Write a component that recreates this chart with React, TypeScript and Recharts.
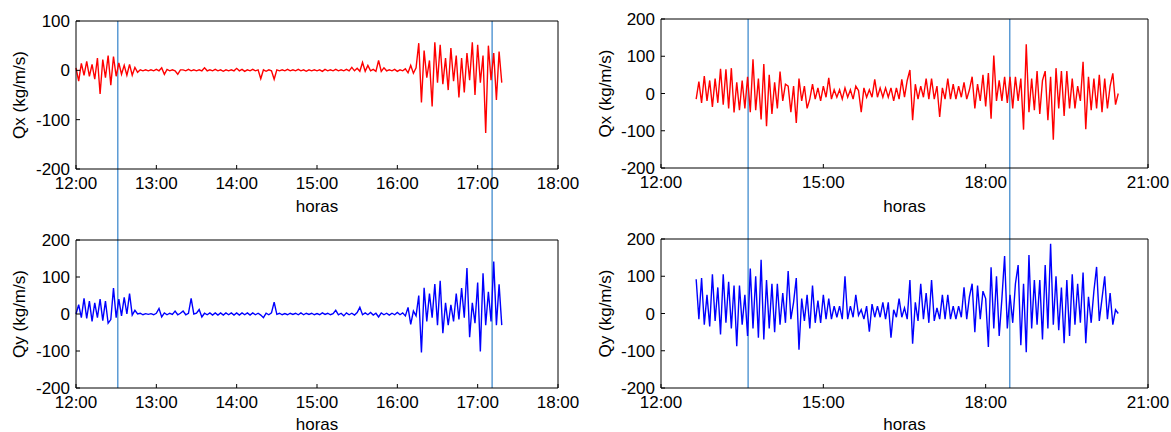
import { LineChart, Line, XAxis, YAxis, ReferenceLine } from "recharts";

// sampling of the records (hours, minutes between samples)
const LEFT_START = 12;
const LEFT_STEP_MIN = 2;
const RIGHT_START = 12 + 39 / 60;
const RIGHT_STEP_MIN = 3;

// left day, 12:00 -> 17:18
const qxLeft = [
  5, -22, 14, -10, 18, -12, 12, -18, 25, -48, 22, -15, 30, -30, 28, -12,
  15, -8, 10, -10, 12, -10, 6, -4, 1, -1, 1, -1, 1, -1,
  2, -1, 5, -8, 2, -1, 1, -1, -8, 1,
  1, -1, 2, -1, 1, -1, 1, -1, 5, -1,
  1, -1, 2, -1, 1, -2, 1, -1, 1, -1,
  4, -1, 2, -2, 1, -1, 2, -1, 1, -17,
  1, -2, 1, -1, -18, 1, -1, 1, -1, 2,
  -1, 1, -1, 2, -1, 1, -2, 1, -1, 1,
  -1, 1, -2, 2, -1, 1, -1, 2, -1, 1,
  -1, 2, -1, 6, -1, 4, -2, 16, -2, 10,
  -1, 2, -2, 20, -2, 5, -1, 1, -1, 2,
  -2, 1, -1, 3, -5, 10, -6, 5,
  55, -65, 40, -15, 20, -73, 57, -25, 52, -28, 25, -40,
  45, -22, 30, -55, 25, -45, 35, -20, 57, -50,
  52, -25, 30, -127, 50, -20, 35, -60, 38, -25,
];

const qyLeft = [
  0, 25, -10, 42, -12, 35, -20, 30, -10, 40, -18, 35, -25, -15, 70, -10,
  40, -5, 45, 0, 55, -3, 10, 0, 2, -2, 1, -1, 1, -2,
  2, 15, -8, 3, -2, 2, -1, 8, -2, 2,
  8, -2, 2, 42, 0, 2, 12, -8, 2, -2,
  3, -3, 3, -3, 3, -3, 3, -2, 3, -3,
  3, -3, 3, -2, 3, -3, 3, -2, 2, -3,
  -10, 2, -2, 3, 32, -1, 2, -2, 1, -2,
  2, -1, 2, -2, 3, -2, 2, -1, 2, -2,
  1, -2, 3, -1, 2, -2, 1, 10, -2, 2,
  -5, 3, -2, 2, -3, 4, 18, -2, 3, -2,
  4, -3, 2, -8, 3, -2, 2, -3, 2, -2,
  4, -2, 3, -5, 18, -28, 8, -5,
  50, -104, 71, -20, 55, -10, 81, -30, 90, -52, 30, -30,
  25, -20, 55, -15, 70, -10, 124, -63, 30, -25,
  85, -101, 110, -30, 60, -20, 142, -30, 80, -30,
];

// right day, 12:39 -> 20:27
const qxRight = [
  -15, 32, -25, 47, -20, 35, -36, 40, -25, 66,
  -30, 65, -40, 68, -51, 30, -45, 35, -40, 45,
  -50, 92, -45, 40, -70, 79, -88, 50, -55, 30,
  -40, 59, -20, 25, 20, -50, 20, -79, 40, -20,
  20, -40, -15, 25, -15, 15, -20, 20, -10, 42,
  -15, 10, -10, 10, -15, 15, -10, 10, -15, 20,
  8, -50, 15, -10, 10, -10, 38, -10, 15, -10,
  15, -10, 15, -20, 15, -15, 38, -10, 35, 63,
  -72, 25, -15, 20, -10, 40, -15, 40, -15, 20,
  -63, 15, -15, 40, -15, 25, -15, 20, -10, 30,
  -15, 10, 45, -40, 25, -20, 50, -35, 55, -68,
  102, -20, 35, -20, 45, -25, 45, -40, 45, -20,
  40, -97, 132, -50, 40, -45, 60, -55, 35, 60,
  -72, 45, -124, 68, -40, 60, -60, 60, -40, 40,
  -40, 20, -20, 85, -96, 45, -45, 40, -40, 50,
  -50, 40, -40, 20, 54, -30, 0,
];

const qyRight = [
  92, -15, 95, -30, 50, -35, 105, -20, 70, -56,
  105, -25, 85, -40, 75, -88, 75, -30, 50, -60,
  121, -40, 100, -65, 144, -70, 90, -40, 80, -50,
  80, -30, 55, -25, 114, -15, 30, 95, -97, 40,
  -20, 50, -40, 75, -25, 35, -25, 50, -15, 40,
  -15, 20, -10, 20, -15, 100, -15, 20, -10, 50,
  -5, 10, -15, 20, -49, 25, -10, 20, -10, 30,
  -15, 30, -65, 10, -10, 40, -10, 15, -15, 90,
  -81, 30, -20, 80, -15, 55, -25, 90, -20, 15,
  -15, 50, -15, 50, -15, 20, -15, 20, -10, 70,
  -15, 45, 80, -50, 75, -15, 60, 40, -90, 124,
  -40, 100, -60, 40, 154, -40, 50, -25, 80, 130,
  -85, 80, -104, 157, -40, 90, -30, 90, -70, 130,
  -40, 187, -30, 100, -45, 70, -80, 90, -60, 105,
  -30, 80, -25, 110, -80, 45, -25, 60, 125, -20,
  40, 100, -15, 55, -30, 10, 0,
];

const leftHours = [12, 13, 14, 15, 16, 17, 18];
const rightHours = [12, 15, 18, 21];
const qxLeftTicks = [-200, -100, 0, 100];
const qTicks = [-200, -100, 0, 100, 200];
const leftMarks = [12.52, 17.18];
const rightMarks = [13.61, 18.445];

const toRows = (vals: number[], start: number, stepMin: number) =>
  vals.map((v, i) => ({ t: start + (i * stepMin) / 60, v }));

const FONT = 17;
const H = 216;
const MARK = "#5B9BD5";
const axisStyle = { stroke: "#000" };
const tickStyle = { fill: "#000", fontSize: FONT };
const hourLabel = (t: number) => `${t}:00`;

type PanelProps = {
  data: { t: number; v: number }[];
  color: string;
  yLabel: string;
  yTicks: number[];
  xTicks: number[];
  marks: number[];
  width: number;
  margin: { top: number; right: number; bottom: number; left: number };
  xHeight: number;
  hLabelOffset: number;
  yLabelOffset: number;
  extend: "up" | "down";
};

function Panel(p: PanelProps) {
  const xDomain = [p.xTicks[0], p.xTicks[p.xTicks.length - 1]];
  const yDomain = [p.yTicks[0], p.yTicks[p.yTicks.length - 1]];
  // the marker lines run on through the gap between the two rows
  const markShape = (s: any) => {
    const top = Math.min(s.y1, s.y2);
    const bottom = Math.max(s.y1, s.y2);
    return (
      <line
        x1={s.x1}
        x2={s.x2}
        y1={p.extend === "up" ? 0 : top}
        y2={p.extend === "down" ? H : bottom}
        stroke={MARK}
        strokeWidth={1.5}
      />
    );
  };
  return (
    <LineChart width={p.width} height={H} data={p.data} margin={p.margin}>
      <XAxis
        dataKey="t"
        type="number"
        domain={xDomain}
        ticks={p.xTicks}
        interval={0}
        tickFormatter={hourLabel}
        height={p.xHeight}
        tickSize={-4}
        tickMargin={12}
        axisLine={axisStyle}
        tickLine={axisStyle}
        tick={tickStyle}
        label={{ value: "horas", position: "insideBottom", offset: p.hLabelOffset, fill: "#000", fontSize: FONT }}
      />
      <XAxis
        xAxisId="top"
        orientation="top"
        type="number"
        domain={xDomain}
        ticks={p.xTicks}
        interval={0}
        height={1}
        tickSize={-4}
        tick={false}
        axisLine={axisStyle}
        tickLine={axisStyle}
      />
      <YAxis
        type="number"
        domain={yDomain}
        ticks={p.yTicks}
        interval={0}
        width={60}
        tickSize={-4}
        tickMargin={10}
        axisLine={axisStyle}
        tickLine={axisStyle}
        tick={tickStyle}
        label={{
          value: p.yLabel,
          angle: -90,
          position: "insideLeft",
          offset: p.yLabelOffset,
          fill: "#000",
          fontSize: FONT,
          style: { textAnchor: "middle" },
        }}
      />
      <YAxis
        yAxisId="right"
        orientation="right"
        type="number"
        domain={yDomain}
        ticks={p.yTicks}
        interval={0}
        width={1}
        tickSize={-4}
        tick={false}
        axisLine={axisStyle}
        tickLine={axisStyle}
      />
      {p.marks.map((m) => (
        <ReferenceLine key={m} x={m} shape={markShape} />
      ))}
      <Line
        type="linear"
        dataKey="v"
        stroke={p.color}
        strokeWidth={1.4}
        dot={false}
        activeDot={false}
        isAnimationActive={false}
      />
    </LineChart>
  );
}

export default function App() {
  return (
    <div
      style={{
        position: "absolute",
        left: 0,
        top: 0,
        width: 1171,
        height: 432,
        background: "#fff",
        fontFamily: "'Liberation Sans', Arial, sans-serif",
      }}
    >
      <div style={{ position: "absolute", left: 0, top: 0 }}>
        <Panel
          data={toRows(qxLeft, LEFT_START, LEFT_STEP_MIN)}
          color="#FF0000"
          yLabel="Qx (kg/m/s)"
          yTicks={qxLeftTicks}
          xTicks={leftHours}
          marks={leftMarks}
          width={590}
          margin={{ top: 20, right: 31, bottom: 0, left: 16 }}
          xHeight={47}
          hLabelOffset={4}
          yLabelOffset={2.5}
          extend="down"
        />
      </div>
      <div style={{ position: "absolute", left: 0, top: H }}>
        <Panel
          data={toRows(qyLeft, LEFT_START, LEFT_STEP_MIN)}
          color="#0000FF"
          yLabel="Qy (kg/m/s)"
          yTicks={qTicks}
          xTicks={leftHours}
          marks={leftMarks}
          width={590}
          margin={{ top: 23, right: 31, bottom: 0, left: 16 }}
          xHeight={44}
          hLabelOffset={2}
          yLabelOffset={2.5}
          extend="up"
        />
      </div>
      <div style={{ position: "absolute", left: 590, top: 0 }}>
        <Panel
          data={toRows(qxRight, RIGHT_START, RIGHT_STEP_MIN)}
          color="#FF0000"
          yLabel="Qx (kg/m/s)"
          yTicks={qTicks}
          xTicks={rightHours}
          marks={rightMarks}
          width={581}
          margin={{ top: 18, right: 22, bottom: 0, left: 11 }}
          xHeight={48}
          hLabelOffset={4}
          yLabelOffset={4}
          extend="down"
        />
      </div>
      <div style={{ position: "absolute", left: 590, top: H }}>
        <Panel
          data={toRows(qyRight, RIGHT_START, RIGHT_STEP_MIN)}
          color="#0000FF"
          yLabel="Qy (kg/m/s)"
          yTicks={qTicks}
          xTicks={rightHours}
          marks={rightMarks}
          width={581}
          margin={{ top: 22, right: 22, bottom: 0, left: 11 }}
          xHeight={44}
          hLabelOffset={2}
          yLabelOffset={4}
          extend="up"
        />
      </div>
    </div>
  );
}
